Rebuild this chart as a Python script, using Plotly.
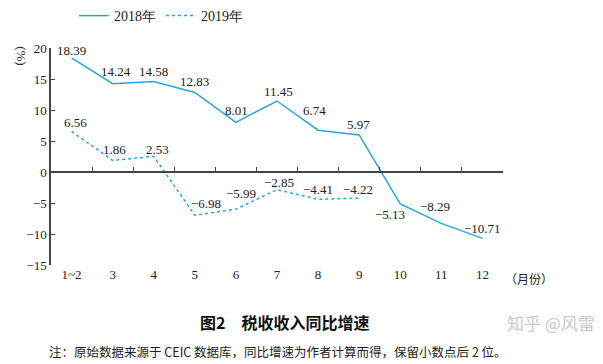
import plotly.graph_objects as go

months = ["1~2", "3", "4", "5", "6", "7", "8", "9", "10", "11", "12"]
y2018 = [18.39, 14.24, 14.58, 12.83, 8.01, 11.45, 6.74, 5.97, -5.13, -8.29, -10.71]
y2019 = [6.56, 1.86, 2.53, -6.98, -5.99, -2.85, -4.41, -4.22]
yticks = [-15, -10, -5, 0, 5, 10, 15, 20]

# label offsets (pixels) relative to each point: (dx, dy up)
off2018 = [(0, 7), (3, 12), (0, 10), (0, 11), (1, 12), (1, 10),
           (-4, 20), (-1, 10), (-10, -11), (-6, 17), (0, 10)]
off2019 = [(4, 9), (2, 11), (4, 7), (11, 12), (5, 16), (2, 7), (0, 10), (-1, 9)]

BLUE = "#2aa6d8"
SERIF = "Liberation Serif, Times New Roman, serif"
CJK = "Noto Sans CJK SC"
PW = 452  # plot width in px


def fmt(v):
    return f"{v:.2f}".replace("-", "\u2212")


fig = go.Figure()
fig.add_trace(go.Scatter(
    x=months, y=y2018, name="2018年", mode="lines",
    line=dict(color=BLUE, width=1.5),
))
fig.add_trace(go.Scatter(
    x=months[:len(y2019)], y=y2019, name="2019年", mode="lines",
    line=dict(color=BLUE, width=1.5, dash="3px,3px"),
))
# invisible trace for the zero-line axis
fig.add_trace(go.Scatter(x=months, y=[None] * len(months), xaxis="x2",
                         showlegend=False, hoverinfo="skip", mode="lines"))

# value labels: category index positions on the category axis
for ys, offs in ((y2018, off2018), (y2019, off2019)):
    for i, (yv, (dx, dy)) in enumerate(zip(ys, offs)):
        fig.add_annotation(x=i, y=yv, text=fmt(yv), showarrow=False,
                           xanchor="center", yanchor="middle",
                           xshift=dx, yshift=dy,
                           font=dict(family=SERIF, size=13, color="#222"))

fig.update_layout(
    template="none",
    width=603, height=364,
    margin=dict(l=51, r=100, t=48, b=99, autoexpand=False),
    paper_bgcolor="white", plot_bgcolor="white",
    font=dict(family=SERIF, size=13, color="#222"),
    showlegend=True,
    legend=dict(orientation="h", x=(74 - 51) / PW, xanchor="left",
                y=1 + 32 / 217, yanchor="middle",
                font=dict(family=SERIF, size=14, color="#222"),
                bgcolor="rgba(0,0,0,0)", borderwidth=0),
    xaxis=dict(type="category", categoryorder="array", categoryarray=months,
               range=[-0.5, 10.5], showline=False, ticks="", showgrid=False,
               zeroline=False, automargin=False,
               tickfont=dict(family=SERIF, size=13, color="#222")),
    xaxis2=dict(type="category", categoryorder="array", categoryarray=months,
                range=[-0.5, 10.5], overlaying="x", anchor="free",
                position=15 / 35, showline=True, linecolor="#444", linewidth=1.5,
                ticks="inside", tickson="boundaries", ticklen=4, tickcolor="#444",
                tickwidth=1, showticklabels=False, showgrid=False, zeroline=False,
                automargin=False),
    yaxis=dict(range=[-15, 20], tickvals=yticks,
               ticktext=[str(v).replace("-", "\u2212") for v in yticks],
               showline=True, linecolor="#444", linewidth=1.5,
               ticks="inside", ticklen=4, tickcolor="#444", showgrid=False,
               zeroline=False, automargin=False,
               tickfont=dict(family=SERIF, size=13, color="#222")),
)

fig.add_annotation(text="(%)", textangle=90, xref="x domain", yref="paper",
                   x=(12 - 51) / PW, y=1.02, yanchor="top", showarrow=False,
                   font=dict(family=SERIF, size=13, color="#222"))
fig.add_annotation(text="（月份）", xref="x domain", yref="paper",
                   x=1.0, xanchor="left", y=0, yanchor="middle", yshift=-13,
                   showarrow=False, font=dict(family=CJK, size=12, color="#222"))
fig.add_annotation(text="图2　税收收入同比增速", xref="x domain", yref="paper",
                   x=(284 - 51) / PW, xanchor="center", y=0, yanchor="top",
                   yshift=-43, showarrow=False,
                   font=dict(family=CJK, size=16, color="#111", weight="bold"))
fig.add_annotation(text="注：原始数据来源于 CEIC 数据库，同比增速为作者计算而得，保留小数点后 2 位。",
                   xref="x domain", yref="paper", x=(47 - 51) / PW, xanchor="left",
                   y=0, yanchor="top", yshift=-75, showarrow=False,
                   font=dict(family=CJK, size=12.5, color="#222"))
fig.add_annotation(text="知乎 @风雷", xref="x domain", yref="paper",
                   x=(505 - 51) / PW, xanchor="left", y=0, yanchor="top",
                   yshift=-43, showarrow=False,
                   font=dict(family=CJK, size=17, color="#c8c8c8"))

fig.write_html("out.html", config={"displayModeBar": False},
               post_script="document.body.style.margin='0';document.body.style.overflow='hidden';")
